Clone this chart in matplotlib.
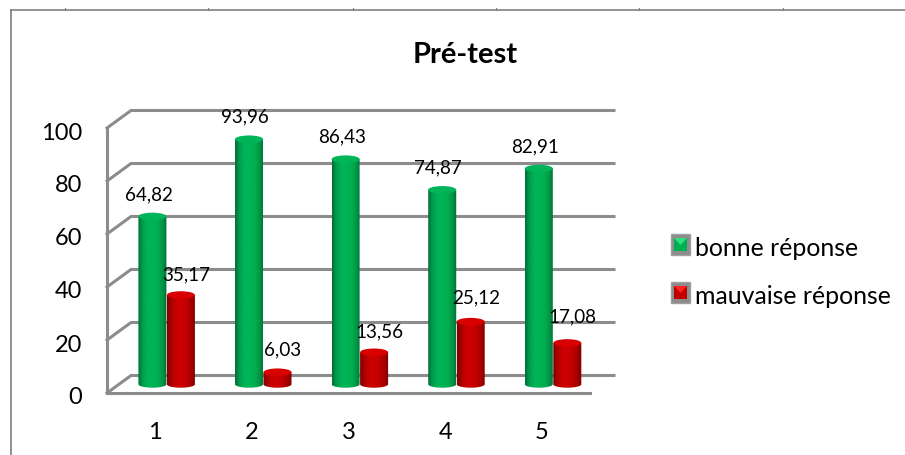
import numpy as np
import matplotlib
matplotlib.use('Agg')
import matplotlib.pyplot as plt
from matplotlib.colors import LinearSegmentedColormap
from matplotlib.patches import Polygon, Rectangle, Ellipse
from matplotlib.transforms import ScaledTranslation

plt.rcParams['font.family'] = ['Lato', 'DejaVu Sans']

categories = [1, 2, 3, 4, 5]
bonne = [64.82, 93.96, 86.43, 74.87, 82.91]
mauvaise = [35.17, 6.03, 13.56, 25.12, 17.08]
bonne_labels = ['64,82', '93,96', '86,43', '74,87', '82,91']
mauvaise_labels = ['35,17', '6,03', '13,56', '25,12', '17,08']
y_ticks = [0, 20, 40, 60, 80, 100]

W, H = 905, 456
fig = plt.figure(figsize=(W / 100, H / 100), dpi=100)

# front plane of the fake 3d box: x 107..590 px, y 394 (0) .. 129 (100) px
ax = fig.add_axes([107 / W, (H - 394) / H, 483 / W, 265 / H])
ax.set_xlim(0.5, 5.5)
ax.set_ylim(0, 100)
ax.patch.set_alpha(0)
for s in ax.spines.values():
    s.set_visible(False)
ax.set_xticks(categories)
ax.set_yticks(y_ticks)
ax.tick_params(length=0, labelsize=17, labelcolor='black')
ax.tick_params(axis='x', pad=20)
ax.tick_params(axis='y', pad=18)
# the value labels sit 2 px lower than matplotlib centres them
for lab in ax.get_yticklabels():
    lab.set_transform(lab.get_transform() + ScaledTranslation(0, -2 / 100, fig.dpi_scale_trans))

# depth offset in data units
dx = 24 / 96.6
dy = 17.5 / 2.65
grey = '#8c8c8c'
for v in y_ticks:
    ax.plot([0.5, 0.5 + dx, 5.5 + dx], [v, v + dy, v + dy], color=grey, lw=2.2,
            clip_on=False, solid_joinstyle='miter', zorder=1)
ax.plot([0.5, 0.5], [0, 100], color=grey, lw=2.2, clip_on=False, zorder=1)
ax.plot([0.5, 5.5], [0, 0], color=grey, lw=2.2, clip_on=False, zorder=1)

green_map = LinearSegmentedColormap.from_list('g', ['#00703a', '#00a04e', '#00b356', '#00b356', '#00b050', '#009a48', '#006f36'])
red_map = LinearSegmentedColormap.from_list('r', ['#800000', '#b00000', '#cc0000', '#cc0000', '#c00000', '#a80000', '#7a0000'])
grad = np.linspace(0, 1, 64).reshape(1, -1)

bar_w = 0.29
cap_h = 2.6
base = 3.3
# small nudges of the red value labels, in value units
red_nudge = [0, 1.1, 0, 1.5, 2.3]


def cylinder(xc, value, cmap, cap_colour):
    x0, x1 = xc - bar_w / 2, xc + bar_w / 2
    top = value + 1.8
    t = np.linspace(0, np.pi, 30)
    px = xc + bar_w / 2 * np.cos(t)
    py = base - cap_h / 2 * np.sin(t)
    outline = np.column_stack([np.r_[x1, px, x0], np.r_[top, py, top]])
    body = Polygon(outline, closed=True, transform=ax.transData, fc='none', ec='none')
    ax.add_patch(body)
    im = ax.imshow(grad, cmap=cmap, extent=(x0, x1, base - cap_h, top), aspect='auto', zorder=3)
    im.set_clip_path(body)
    ax.add_patch(Ellipse((xc, top), bar_w, cap_h * 1.1, fc=cap_colour, ec='none', zorder=4))
    ax.add_patch(Ellipse((xc, top + 0.2), bar_w * 0.5, cap_h * 0.4, fc=cap_colour, ec='none', alpha=0.5, zorder=5))


for c, g, r, gl, rl, n in zip(categories, bonne, mauvaise, bonne_labels, mauvaise_labels, red_nudge):
    cylinder(c - 0.03, g, green_map, '#00b45a')
    cylinder(c + 0.265, r, red_map, '#d80000')
    ax.text(c - 0.07, g + 7.3, gl, ha='center', va='bottom', fontsize=13.6, zorder=6, clip_on=False)
    ax.text(c + 0.32, r + 6.5 + n, rl, ha='center', va='bottom', fontsize=13.6, zorder=6, clip_on=False)

ax.set_xlim(0.5, 5.5)
ax.set_ylim(0, 100)

fig.text(465 / W, 1 - 55 / H, 'Pré-test', ha='center', va='center', fontsize=21, fontweight='bold')

# legend
for y_px, label, fill, hi in [(235, 'bonne réponse', '#00b050', '#30e080'), (283, 'mauvaise réponse', '#c00000', '#ff2020')]:
    fig.add_artist(Rectangle((671 / W, 1 - (y_px + 21) / H), 19 / W, 21 / H, transform=fig.transFigure,
                             fc=grey, ec='#a0a0a0', lw=1))
    fig.add_artist(Rectangle((674 / W, 1 - (y_px + 17) / H), 13 / W, 13 / H, transform=fig.transFigure,
                             fc=fill, ec='none'))
    fig.add_artist(Polygon([[674 / W, 1 - (y_px + 4) / H], [687 / W, 1 - (y_px + 4) / H], [680.5 / W, 1 - (y_px + 11) / H]],
                           transform=fig.transFigure, fc=hi, ec='none'))
    fig.text(695 / W, 1 - (y_px + 13) / H, label, ha='left', va='center', fontsize=17.9)

# outer frame with its small ticks at the top
frame = '#7f7f7f'
fig.add_artist(plt.Line2D([11 / W, 11 / W], [0, 1 - 11 / H], color=frame, lw=1.2))
fig.add_artist(plt.Line2D([11 / W, 1], [1 - 11 / H, 1 - 11 / H], color=frame, lw=1.2))
for x_px in [65, 208, 353, 496, 639, 783]:
    fig.add_artist(plt.Line2D([x_px / W, x_px / W], [1 - 11 / H, 1 - 9 / H], color=frame, lw=0.8))

fig.savefig('out.png', dpi=100)
